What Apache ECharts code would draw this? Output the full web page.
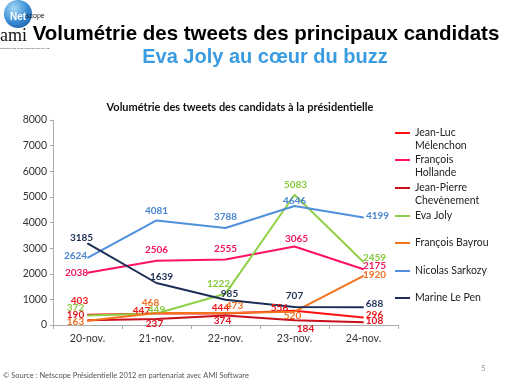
<!DOCTYPE html>
<html><head><meta charset="utf-8">
<style>html,body{margin:0;padding:0;background:#fff}#c{width:514px;height:383px}</style>
<script src="https://cdn.jsdelivr.net/npm/echarts@6/dist/echarts.min.js"></script>
</head><body><div id="c"></div>
<script>
const categories = ['20-nov.', '21-nov.', '22-nov.', '23-nov.', '24-nov.'];
const yTicks = [0, 1000, 2000, 3000, 4000, 5000, 6000, 7000, 8000];
const melenchon = [403, 447, 444, 556, 296];
const hollande = [2038, 2506, 2555, 3065, 2175];
const chevenement = [190, 237, 374, 184, 108];
const joly = [372, 449, 1222, 5083, 2459];
const bayrou = [163, 468, 473, 520, 1920];
const sarkozy = [2624, 4081, 3788, 4646, 4199];
const lepen = [3185, 1639, 985, 707, 688];

const seriesDefs = [
  {name: 'Jean-Luc\nMélenchon', data: melenchon, color: '#ff1010', lbl: '#f01818',
   off: [[-8,-14],[-15,-3],[-5,-6],[-15,-3],[11,-3]], top: 133},
  {name: 'François\nHollande', data: hollande, color: '#ff1166', lbl: '#f0185c',
   off: [[-11,0],[0,-11],[0,-11],[2,-8],[11,-3]], top: 160},
  {name: 'Jean-Pierre\nChevènement', data: chevenement, color: '#c8101e', lbl: '#e01020',
   off: [[-12,-5],[-2,5],[-3,5],[11,8],[11,-1]], top: 188},
  {name: 'Eva Joly', data: joly, color: '#8fd146', lbl: '#86c83e',
   off: [[-12,-8],[0,-4],[-7,-10],[1,-10],[11,-4]], top: 216},
  {name: 'François Bayrou', data: bayrou, color: '#f5731c', lbl: '#f07020',
   off: [[-12,1],[-6,-10],[9,-7],[-2,4],[11,-1]], top: 243},
  {name: 'Nicolas Sarkozy', data: sarkozy, color: '#4f8fdc', lbl: '#4a86d0',
   off: [[-12,-2],[0,-10],[0,-11],[0,-5],[14,-2]], top: 271},
  {name: 'Marine Le Pen', data: lepen, color: '#1c2e55', lbl: '#1c2e55',
   off: [[-6,-6],[5,-6],[4,-6],[0,-11],[11,-4]], top: 298}
];

const LH = 12.5;
const chart = echarts.init(document.getElementById('c'), null, {renderer: 'canvas'});
const series = seriesDefs.map(s => ({
  name: s.name, type: 'line', symbol: 'circle', symbolSize: 1,
  itemStyle: {color: s.color}, lineStyle: {color: s.color, width: 2},
  animation: false,
  data: s.data.map((v, i) => ({value: v, label: {offset: s.off[i]}})),
  label: {show: true, position: 'inside', color: s.lbl, fontSize: 10,
    fontFamily: 'Lato', fontWeight: 'bold'}
}));
const legends = seriesDefs.map(s => {
  const multi = s.name.indexOf('\n') >= 0;
  return {
    data: [{name: s.name, icon: 'rect'}],
    formatter: multi ? (n => '\u00a0\n' + n) : undefined,
    left: 395, top: multi ? s.top - 1.5 * LH : s.top - 0.5 * LH,
    padding: 0, itemWidth: 15, itemHeight: 2,
    textStyle: {fontSize: 10.5, fontFamily: 'Lato', color: '#222', lineHeight: LH}
  };
});

chart.setOption({
  animation: false,
  title: [
    {text: 'Volumétrie des tweets des principaux candidats', left: 261, top: 19, textAlign: 'center',
     textStyle: {fontSize: 20.5, fontWeight: 'bold', color: '#000', fontFamily: 'Liberation Sans'}},
    {text: 'Eva Joly au cœur du buzz', left: 260, top: 42, textAlign: 'center',
     textStyle: {fontSize: 20, fontWeight: 'bold', color: '#3a9be0', fontFamily: 'Liberation Sans'}},
    {text: 'Volumétrie des tweets des candidats à la présidentielle', left: 235, top: 97, textAlign: 'center',
     textStyle: {fontSize: 11, fontWeight: 'bold', color: '#111', fontFamily: 'Lato'}}
  ],
  legend: legends,
  grid: {left: 53, top: 120, width: 345, height: 205, containLabel: false},
  xAxis: {type: 'category', data: categories, boundaryGap: true,
    axisLine: {lineStyle: {color: '#aaa'}}, axisTick: {show: true, length: 4, lineStyle: {color: '#aaa'}},
    axisLabel: {color: '#333', fontSize: 10.5, fontFamily: 'Lato', margin: 8}},
  yAxis: {type: 'value', min: yTicks[0], max: yTicks[yTicks.length - 1], interval: 1000,
    axisLine: {show: true, lineStyle: {color: '#aaa'}}, axisTick: {show: true, length: 3, lineStyle: {color: '#aaa'}},
    splitLine: {show: false},
    axisLabel: {color: '#333', fontSize: 10.5, fontFamily: 'Lato', margin: 6, formatter: v => String(v)}},
  series: series,
  graphic: [
    {type: 'circle', shape: {cx: 18, cy: 14, r: 14}, style: {fill: new echarts.graphic.RadialGradient(0.35, 0.3, 0.8, [{offset: 0, color: '#a8d8f8'}, {offset: 0.6, color: '#3b8fd6'}, {offset: 1, color: '#1c5fa8'}])}},
    {type: 'text', left: 10, top: 12, style: {text: 'Net', fill: '#fff', font: 'bold 10px Liberation Sans'}},
    {type: 'text', left: 26, top: 13, style: {text: 'scope', fill: '#222', font: '7px Liberation Sans'}},
    {type: 'text', left: 0, top: 27, style: {text: 'ami', fill: '#111', font: '18px Liberation Serif'}},
    {type: 'text', left: 0, top: 47, style: {text: 'ENTERPRISE INTELLIGENCE SOFTWARE', fill: '#444', font: '2.5px Liberation Sans'}},
    {type: 'text', left: 3, top: 372, style: {text: '© Source : Netscope Présidentielle 2012 en partenariat avec AMI Software', fill: '#555', font: '7.5px Lato'}},
    {type: 'text', left: 481, top: 364, style: {text: '5', fill: '#999', font: '8px Lato'}}
  ]
});
</script></body></html>
